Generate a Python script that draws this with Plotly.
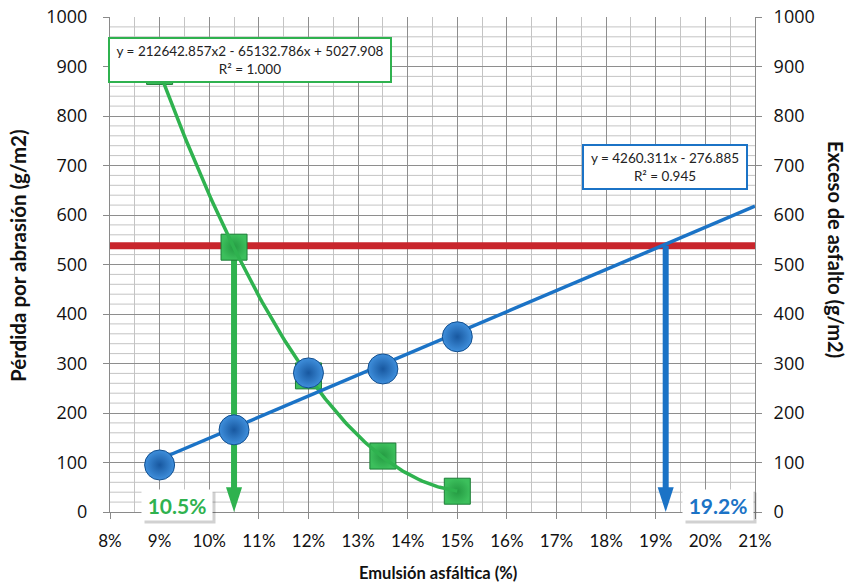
import numpy as np
import plotly.graph_objects as go

# Emulsion content tested (fraction) and measured responses (g/m2)
emulsion = [0.09, 0.105, 0.12, 0.135, 0.15]
abrasion_loss = [890, 535, 275, 113, 42]
asphalt_excess = [95, 166, 281, 289, 354]

# Fitted trend lines
quad_coef = [212642.857, -65132.786, 5027.908]   # abrasion loss, 2nd order
lin_coef = [4260.311, -276.885]                  # asphalt excess, linear
limit_value = 538                                # specification limit (g/m2)
opt_min = 0.105                                  # minimum emulsion content
opt_max = 0.192                                  # maximum emulsion content

W, H = 851, 584
M = dict(l=110, r=96, t=17, b=72)
plot_w = W - M["l"] - M["r"]
plot_h = H - M["t"] - M["b"]
px_per_unit = plot_h / 1000.0


def px_x(p):
    return (p - M["l"]) / plot_w


def px_y(p):
    return (H - M["b"] - p) / plot_h


GREEN = "#2fb24f"
GREEN_D = "#1c7d36"
BLUE = "#1b73c6"
BLUE_D = "#124f8f"
RED = "#c8252c"
GRID_MAJOR = "#8e8e8e"
GRID_MINOR = "#c4c4c4"

x_quad = np.linspace(emulsion[0], emulsion[-1], 120)
y_quad = np.polyval(quad_coef, x_quad)
x_lin = np.array([emulsion[0], 0.21])
y_lin = np.polyval(lin_coef, x_lin)

head_size = 26
head_len_px = 1.902 * head_size / 2
stem_end = 0.6 * head_len_px / px_per_unit

fig = go.Figure()

# light horizontal grid every 20 g/m2 (under the major grid)
for v in range(20, 1000, 20):
    if v % 100:
        fig.add_shape(type="line", xref="paper", x0=0, x1=1, yref="y", y0=v, y1=v,
                      line=dict(color=GRID_MINOR, width=1), layer="below")

# specification limit
fig.add_trace(go.Scatter(x=[0.08, 0.21], y=[limit_value, limit_value], mode="lines",
                         line=dict(color=RED, width=7), hoverinfo="skip", showlegend=False))
# linear trend of asphalt excess
fig.add_trace(go.Scatter(x=x_lin, y=y_lin, mode="lines", yaxis="y2",
                         line=dict(color=BLUE, width=3.5), hoverinfo="skip", showlegend=False))
# arrows to the emulsion range
for xv, ytop, col in [(opt_min, float(np.polyval(quad_coef, opt_min)), GREEN),
                      (opt_max, limit_value, BLUE)]:
    fig.add_trace(go.Scatter(x=[xv, xv], y=[ytop, stem_end], mode="lines",
                             line=dict(color=col, width=6), hoverinfo="skip", showlegend=False))
    fig.add_trace(go.Scatter(x=[xv], y=[0], mode="markers",
                             marker=dict(symbol="arrow", angle=180, size=head_size, color=col,
                                         line=dict(width=0)),
                             hoverinfo="skip", showlegend=False, cliponaxis=False))

# measured points
fig.add_trace(go.Scatter(x=emulsion, y=abrasion_loss, mode="markers", name="Pérdida por abrasión",
                         marker=dict(symbol="square", size=26, color="#3cbf5c",
                                     gradient=dict(type="radial", color="#249a42"),
                                     line=dict(color=GREEN_D, width=1)),
                         showlegend=False))
fig.add_trace(go.Scatter(x=emulsion, y=asphalt_excess, mode="markers", yaxis="y2",
                         name="Exceso de asfalto",
                         marker=dict(symbol="circle", size=30, color="#3f8fdc",
                                     gradient=dict(type="radial", color="#1858a0"),
                                     line=dict(color=BLUE_D, width=1)),
                         showlegend=False))
# polynomial trend of abrasion loss
fig.add_trace(go.Scatter(x=x_quad, y=y_quad, mode="lines",
                         line=dict(color=GREEN, width=3.5), hoverinfo="skip", showlegend=False))

font_main = "Lato, 'Open Sans', sans-serif"

annotations = [
    dict(x=0.1082, y=913, xref="x", yref="y",
         text="y = 212642.857x2 - 65132.786x + 5027.908<br>R² = 1.000",
         showarrow=False, align="center", bgcolor="white", bordercolor=GREEN, borderwidth=2,
         width=278, height=40, borderpad=1,
         font=dict(family=font_main, size=13.5, color="#222")),
    dict(x=0.1918, y=696, xref="x", yref="y",
         text="y = 4260.311x - 276.885<br>R² = 0.945",
         showarrow=False, align="center", bgcolor="white", bordercolor=BLUE, borderwidth=2,
         width=160, height=40, borderpad=1,
         font=dict(family=font_main, size=13.5, color="#222")),
]
for xv, val, col in [(0.0936, opt_min, GREEN), (0.2025, opt_max, BLUE)]:
    annotations.append(dict(x=xv, y=14, xref="x", yref="y", text="", showarrow=False,
                            bgcolor="rgba(0,0,0,0.18)", width=68, height=28,
                            xshift=3, yshift=-3))
    annotations.append(dict(x=xv, y=14, xref="x", yref="y",
                            text="<b>%.1f%%</b>" % (100 * val),
                            showarrow=False, bgcolor="white", width=68, height=28,
                            font=dict(family=font_main, size=21, color=col)))
annotations += [
    dict(x=px_x(18), y=px_y(256), xref="paper", yref="paper",
         text="<b>Pérdida por abrasión (g/m2)</b>",
         textangle=-90, showarrow=False, font=dict(family=font_main, size=20.5, color="#111"),
         xanchor="center", yanchor="middle"),
    dict(x=px_x(836), y=px_y(249), xref="paper", yref="paper",
         text="<b>Exceso de asfalto (g/m2)</b>",
         textangle=90, showarrow=False, font=dict(family=font_main, size=20, color="#111"),
         xanchor="center", yanchor="middle"),
    dict(x=px_x(438), y=px_y(573), xref="paper", yref="paper",
         text="<b>Emulsión asfáltica (%)</b>",
         showarrow=False, font=dict(family=font_main, size=16.5, color="#111"),
         xanchor="center", yanchor="middle"),
]

axis_common = dict(showline=True, linecolor="#8a8a8a", linewidth=1, automargin=False,
                   ticks="outside", ticklen=6, tickcolor="#8a8a8a", zeroline=False)

fig.update_layout(
    width=W, height=H, margin=M,
    paper_bgcolor="white", plot_bgcolor="white",
    xaxis=dict(range=[0.08, 0.21], tickmode="linear", tick0=0.08, dtick=0.01, tickformat=".0%",
               showgrid=True, gridcolor=GRID_MAJOR, gridwidth=1,
               minor=dict(dtick=0.005, tick0=0.08, showgrid=True, gridcolor=GRID_MINOR, gridwidth=1),
               tickfont=dict(family=font_main, size=17, color="#111"),
               ticklabelstandoff=8,
               **axis_common),
    yaxis=dict(range=[0, 1000], tickmode="linear", tick0=0, dtick=100,
               showgrid=True, gridcolor=GRID_MAJOR, gridwidth=1,
               tickfont=dict(family="'Open Sans', sans-serif", size=18, color="#111"),
               ticklabelstandoff=12,
               **axis_common),
    yaxis2=dict(range=[0, 1000], tickmode="linear", tick0=0, dtick=100,
                overlaying="y", side="right", showgrid=False,
                tickfont=dict(family="'Open Sans', sans-serif", size=18, color="#111"),
                ticklabelstandoff=8,
                **axis_common),
    annotations=annotations,
    showlegend=False,
)

fig.write_html("out.html")
